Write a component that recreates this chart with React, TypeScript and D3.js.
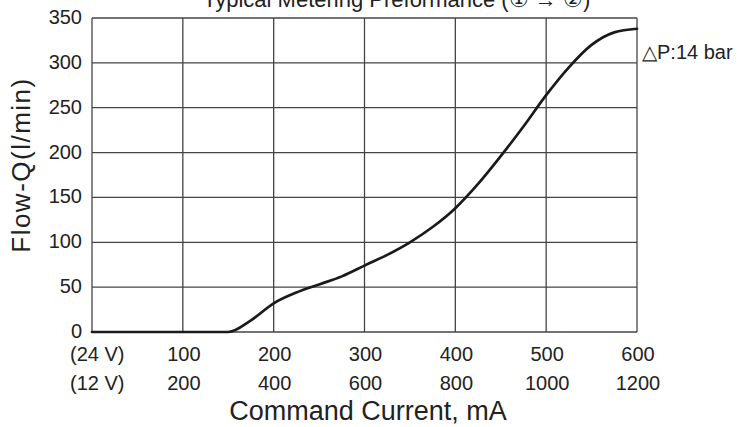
import { useRef, useEffect } from "react";
import * as d3 from "d3";

// command current at 24 V (mA) and measured flow (l/min)
const currents = [0, 50, 100, 150, 175, 200, 225, 250, 275, 300, 325, 350, 375, 400, 425, 450, 475, 500, 525, 550, 575, 600];
const flows = [0, 0, 0, 0, 13, 32, 44, 53, 62, 74, 86, 100, 117, 138, 165, 196, 229, 264, 295, 320, 334, 338];

const ticks24V = [100, 200, 300, 400, 500, 600];
const ticks12V = [200, 400, 600, 800, 1000, 1200];
const flowTicks = [0, 50, 100, 150, 200, 250, 300, 350];

const FONT = "'Liberation Sans', Arial, sans-serif";
const INK = "#222";

const App = () => {
  const ref = useRef<SVGSVGElement>(null);

  useEffect(() => {
    if (!ref.current) return;
    const svg = d3.select(ref.current);

    const x = d3.scaleLinear().domain([0, 600]).range([92, 637]);
    const y = d3.scaleLinear().domain([0, 350]).range([332, 18]);

    // title (cut off at the top in the original)
    svg
      .append("text")
      .attr("x", 203)
      .attr("y", 7)
      .style("font-family", FONT)
      .style("font-size", "22px")
      .style("fill", INK)
      .text("Typical Metering Preformance (① → ②)");

    // grid
    const grid = svg.append("g");
    grid
      .selectAll("line.h")
      .data(flowTicks)
      .enter()
      .append("line")
      .attr("x1", x(0))
      .attr("x2", x(600))
      .attr("y1", (d: number) => y(d))
      .attr("y2", (d: number) => y(d))
      .attr("stroke", "#444")
      .attr("stroke-width", 1.3);
    grid
      .selectAll("line.v")
      .data([0, ...ticks24V])
      .enter()
      .append("line")
      .attr("x1", (d: number) => x(d))
      .attr("x2", (d: number) => x(d))
      .attr("y1", y(0))
      .attr("y2", y(350))
      .attr("stroke", "#444")
      .attr("stroke-width", 1.3);

    // y tick labels
    svg
      .append("g")
      .selectAll("text")
      .data(flowTicks)
      .enter()
      .append("text")
      .attr("x", 82)
      .attr("y", (d: number) => y(d) - 1)
      .attr("text-anchor", "end")
      .attr("dominant-baseline", "central")
      .style("font-family", FONT)
      .style("font-size", "20px")
      .style("fill", INK)
      .text((d: number) => d);

    // x tick labels, two rows
    const rows: [string, number[], number][] = [
      ["(24 V)", ticks24V, 354],
      ["(12 V)", ticks12V, 383],
    ];
    rows.forEach(([label, vals, yy]) => {
      svg
        .append("text")
        .attr("x", 70)
        .attr("y", yy)
        .attr("dominant-baseline", "central")
        .style("font-family", FONT)
        .style("font-size", "20px")
        .style("fill", INK)
        .text(label);
      svg
        .append("g")
        .selectAll("text")
        .data(vals)
        .enter()
        .append("text")
        .attr("x", (_d: number, i: number) => x(ticks24V[i]) + 1)
        .attr("y", yy)
        .attr("text-anchor", "middle")
        .attr("dominant-baseline", "central")
        .style("font-family", FONT)
        .style("font-size", "20px")
        .style("fill", INK)
        .text((d: number) => d);
    });

    // axis titles
    svg
      .append("text")
      .attr("x", 368)
      .attr("y", 420)
      .attr("text-anchor", "middle")
      .style("font-family", FONT)
      .style("font-size", "27px")
      .style("fill", INK)
      .text("Command Current, mA");

    svg
      .append("text")
      .attr("transform", "translate(30,165) rotate(-90)")
      .attr("text-anchor", "middle")
      .style("font-family", FONT)
      .style("font-size", "26px")
      .style("letter-spacing", "1.5px")
      .style("fill", INK)
      .text("Flow-Q(l/min)");

    // curve
    const line = d3
      .line<number>()
      .x((_d: number, i: number) => x(currents[i]))
      .y((d: number) => y(d))
      .curve(d3.curveMonotoneX);

    svg
      .append("path")
      .attr("d", line(flows))
      .attr("fill", "none")
      .attr("stroke", "#1a1a1a")
      .attr("stroke-width", 2.7)
      .attr("stroke-linecap", "round");

    // pressure label at the end of the curve
    svg
      .append("text")
      .attr("x", 642)
      .attr("y", 52)
      .attr("dominant-baseline", "central")
      .style("font-family", FONT)
      .style("font-size", "20px")
      .style("fill", INK)
      .text("△P:14 bar");

    return () => {
      svg.selectAll("*").remove();
    };
  }, []);

  return (
    <svg
      ref={ref}
      width={742}
      height={427}
      style={{ position: "absolute", left: 0, top: 0, background: "#fff" }}
    ></svg>
  );
};

export default App;
